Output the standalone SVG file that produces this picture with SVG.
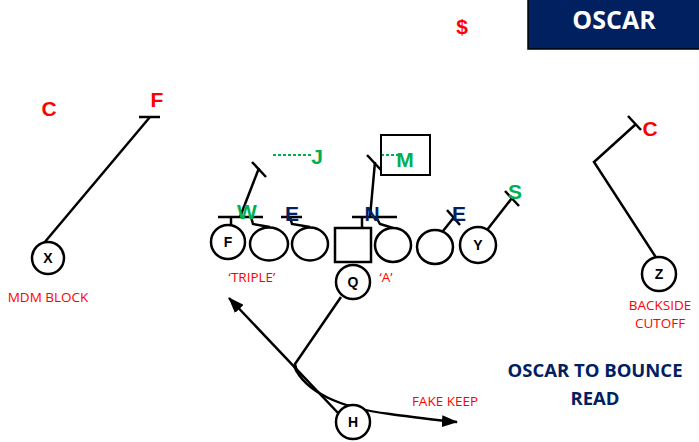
<svg xmlns="http://www.w3.org/2000/svg" width="699" height="442" viewBox="0 0 699 442">
<style>
.l{stroke:#000;stroke-width:2.5;fill:none}
.p{stroke:#000;stroke-width:2.5;fill:#fff}
.pl{font-family:"Liberation Sans",Arial,sans-serif;font-weight:bold;font-size:14px;fill:#000;text-anchor:middle}
.red{font-family:"Liberation Sans",Arial,sans-serif;font-weight:bold;font-size:21px;fill:#ff0000;text-anchor:middle}
.grn{font-family:"Liberation Sans",Arial,sans-serif;font-weight:bold;font-size:21px;fill:#00b050;text-anchor:middle}
.nav{font-family:"Liberation Sans",Arial,sans-serif;font-weight:bold;font-size:21px;fill:#002060;text-anchor:middle}
.lbl{font-family:"Open Sans","Liberation Sans",sans-serif;font-size:13.5px;fill:#ff0000;text-anchor:middle}
.dash{stroke:#00b050;stroke-width:2;stroke-dasharray:3,2;fill:none}
</style>
<defs>
<marker id="ah" viewBox="0 0 16 12" refX="15" refY="6" markerWidth="16" markerHeight="12" markerUnits="userSpaceOnUse" orient="auto">
<path d="M0,0 L16,6 L0,12 Z" fill="#000"/>
</marker>
</defs>
<rect width="699" height="442" fill="#fff"/>

<g id="title">
<rect x="528" y="-2" width="173" height="51" fill="#002060" stroke="#000" stroke-width="1.5"/>
<text x="614" y="29" font-family="Open Sans,'Liberation Sans',sans-serif" font-weight="bold" font-size="25" fill="#fff" text-anchor="middle">OSCAR</text>
</g>
<text x="462" y="34" class="red" font-size="19">$</text>

<g id="connectors">
<line class="l" x1="150" y1="117" x2="44" y2="243"/>
<line class="l" x1="139" y1="117" x2="160" y2="117"/>
<line class="l" x1="240" y1="217" x2="259" y2="168"/>
<line class="l" x1="252" y1="162" x2="266" y2="177"/>
<line class="l" x1="218" y1="217" x2="263" y2="217"/>
<line class="l" x1="231" y1="217" x2="231" y2="226"/>
<polyline class="l" points="251,217 253,224 270,227"/>
<line class="l" x1="281" y1="217" x2="302" y2="217"/>
<polyline class="l" points="290,217 292,224 310,227"/>
<line class="l" x1="352" y1="217" x2="397" y2="217"/>
<line class="l" x1="362" y1="217" x2="362" y2="228"/>
<polyline class="l" points="376,217 380,224 393,228"/>
<line class="l" x1="370" y1="217" x2="375" y2="162"/>
<line class="l" x1="367" y1="155" x2="381" y2="170"/>
<line class="l" x1="443" y1="231" x2="455" y2="216"/>
<line class="l" x1="447" y1="210" x2="460" y2="225"/>
<line class="l" x1="487" y1="230" x2="512" y2="198"/>
<line class="l" x1="505" y1="191" x2="519" y2="206"/>
<polyline class="l" points="657,259 594,162 636,124"/>
<line class="l" x1="628" y1="116" x2="641" y2="130"/>
<line class="dash" x1="273" y1="155" x2="312" y2="155"/>
<line class="dash" x1="381" y1="155" x2="400" y2="155"/>
<polyline class="l" points="341,297 295,364 297,372"/>
<line class="l" x1="339" y1="414" x2="229" y2="298" marker-end="url(#ah)"/>
<path class="l" d="M294,366 C305,392 340,408 390,414 C420,418 440,421 457,422" marker-end="url(#ah)"/>
</g>

<g id="M-box"><rect x="381" y="135" width="49" height="40" fill="none" stroke="#000" stroke-width="2"/></g>

<g id="defense-labels">
<text x="49" y="116" class="red">C</text>
<text x="157" y="107" class="red" font-size="20">F</text>
<text x="650" y="136" class="red">C</text>
<text x="317" y="164" class="grn">J</text>
<text x="405" y="167" class="grn" font-size="23">M</text>
<text x="247" y="219" class="grn">W</text>
<text x="292" y="221" class="nav">E</text>
<text x="372" y="221" class="nav">N</text>
<text x="459" y="221" class="nav">E</text>
<text x="515" y="199" class="grn">S</text>
</g>

<g id="X"><circle class="p" cx="48" cy="258" r="16"/><text x="48" y="263" class="pl">X</text></g>
<g id="F"><circle class="p" cx="228" cy="242" r="17"/><text x="228" y="247" class="pl">F</text></g>
<g id="OL2"><ellipse class="p" cx="269" cy="244" rx="19" ry="16.5"/></g>
<g id="OL3"><ellipse class="p" cx="310" cy="244" rx="18" ry="16.5"/></g>
<g id="C-snap"><rect class="p" x="335" y="228" width="36" height="34"/></g>
<g id="OL5"><ellipse class="p" cx="393" cy="245" rx="18" ry="17"/></g>
<g id="OL6"><ellipse class="p" cx="435" cy="247" rx="18" ry="17"/></g>
<g id="Y"><circle class="p" cx="478" cy="245" r="18"/><text x="478" y="250" class="pl">Y</text></g>
<g id="Q"><circle class="p" cx="353" cy="282" r="17"/><text x="353" y="287" class="pl">Q</text></g>
<g id="H"><circle class="p" cx="353" cy="422" r="17"/><text x="353" y="427" class="pl">H</text></g>
<g id="Z"><circle class="p" cx="659" cy="274" r="17"/><text x="659" y="279" class="pl">Z</text></g>

<g id="labels">
<text x="48" y="302" class="lbl">MDM BLOCK</text>
<text x="252" y="282" class="lbl">‘TRIPLE’</text>
<text x="386" y="282" class="lbl">‘A’</text>
<text x="445" y="406" class="lbl">FAKE KEEP</text>
<text x="660" y="310" class="lbl">BACKSIDE</text>
<text x="660" y="328" class="lbl">CUTOFF</text>
<text x="595" y="377" font-family="Open Sans,'Liberation Sans',sans-serif" font-weight="bold" font-size="18.5" fill="#002060" text-anchor="middle">OSCAR TO BOUNCE</text>
<text x="595" y="405" font-family="Open Sans,'Liberation Sans',sans-serif" font-weight="bold" font-size="18.5" fill="#002060" text-anchor="middle">READ</text>
</g>
</svg>
